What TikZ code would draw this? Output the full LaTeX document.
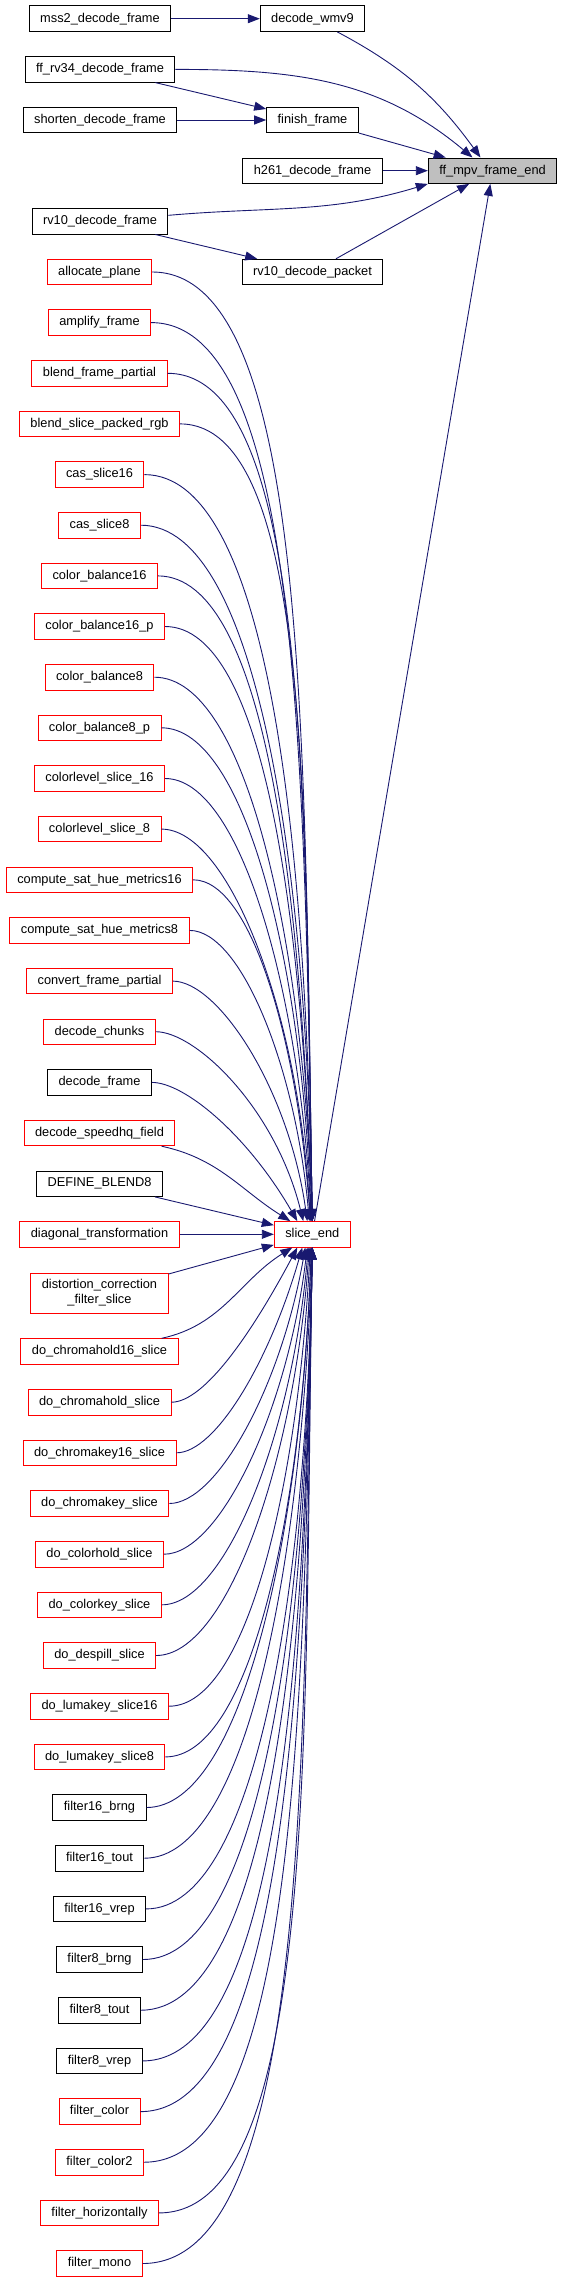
\documentclass[tikz,border=0pt]{standalone}
\usepackage{fontspec}
\setmainfont{Liberation Sans}
\usepackage{tikz}
\usetikzlibrary{arrows.meta}
\definecolor{edgeblue}{HTML}{191970}
\definecolor{boxred}{HTML}{FF0000}
\definecolor{boxgray}{HTML}{BFBFBF}

\begin{document}
\begin{tikzpicture}[
    x=1pt, y=-1pt,
    font=\fontsize{12.8pt}{15pt}\selectfont,
    fn/.style={rectangle, draw=black, fill=white, line width=0.9pt, minimum height=25.5pt, inner xsep=11pt, inner ysep=3pt, align=center},
    fnred/.style={fn, draw=boxred},
    fnmain/.style={fn, fill=boxgray},
    fl/.style={-{Triangle[length=12pt, width=9pt]}, line width=0.9pt, draw=edgeblue},
    callin/.style={fl, out=0, out looseness=0.42, in looseness=1.25}
  ]
  \useasboundingbox (0,0) rectangle (561,2283);

  % callers of ff_mpv_frame_end
  \node[fn]     (mss)     at (100, 18.7)    {mss2\_decode\_frame};
  \node[fn]     (wmv)     at (312.5, 18.7)  {decode\_wmv9};
  \node[fn]     (rv34)    at (100, 69.4)    {ff\_rv34\_decode\_frame};
  \node[fn]     (shorten) at (100, 120)     {shorten\_decode\_frame};
  \node[fn]     (finish)  at (312.5, 120)   {finish\_frame};
  \node[fn]     (h261)    at (312.5, 170.7) {h261\_decode\_frame};
  \node[fnmain] (mpv)     at (492.5, 170.7) {ff\_mpv\_frame\_end};
  \node[fn]     (rv10f)   at (100, 221.3)   {rv10\_decode\_frame};
  \node[fn]     (rv10p)   at (312.5, 272)   {rv10\_decode\_packet};
  \node[fnred]  (slice)   at (312.3, 1234.3) {slice\_end};

  % callers of slice_end
  \node[fnred] (alloc)    at (99.5, 272)    {allocate\_plane};
  \node[fnred] (amplify)  at (99.5, 322.6)  {amplify\_frame};
  \node[fnred] (blendfp)  at (99.5, 373.3)  {blend\_frame\_partial};
  \node[fnred] (blendrgb) at (99.5, 423.9)  {blend\_slice\_packed\_rgb};
  \node[fnred] (cas16)    at (99.5, 474.6)  {cas\_slice16};
  \node[fnred] (cas8)     at (99.5, 525.2)  {cas\_slice8};
  \node[fnred] (cb16)     at (99.5, 575.9)  {color\_balance16};
  \node[fnred] (cb16p)    at (99.5, 626.5)  {color\_balance16\_p};
  \node[fnred] (cb8)      at (99.5, 677.2)  {color\_balance8};
  \node[fnred] (cb8p)     at (99.5, 727.8)  {color\_balance8\_p};
  \node[fnred] (cl16)     at (99.5, 778.5)  {colorlevel\_slice\_16};
  \node[fnred] (cl8)      at (99.5, 829.1)  {colorlevel\_slice\_8};
  \node[fnred] (csh16)    at (99.5, 879.8)  {compute\_sat\_hue\_metrics16};
  \node[fnred] (csh8)     at (99.5, 930.4)  {compute\_sat\_hue\_metrics8};
  \node[fnred] (convert)  at (99.5, 981.1)  {convert\_frame\_partial};
  \node[fnred] (chunks)   at (99.5, 1031.7) {decode\_chunks};
  \node[fn]    (dframe)   at (99.5, 1082.4) {decode\_frame};
  \node[fnred] (speedhq)  at (99.5, 1133)   {decode\_speedhq\_field};
  \node[fn]    (blend8)   at (99.5, 1183.7) {DEFINE\_BLEND8};
  \node[fnred] (diag)     at (99.5, 1234.3) {diagonal\_transformation};
  \node[fnred, minimum height=40pt] (distort) at (99.5, 1293) {distortion\_correction\\\_filter\_slice};
  \node[fnred] (chold16)  at (99.5, 1351.5) {do\_chromahold16\_slice};
  \node[fnred] (chold)    at (99.5, 1402.2) {do\_chromahold\_slice};
  \node[fnred] (ckey16)   at (99.5, 1452.8) {do\_chromakey16\_slice};
  \node[fnred] (ckey)     at (99.5, 1503.5) {do\_chromakey\_slice};
  \node[fnred] (colhold)  at (99.5, 1554.2) {do\_colorhold\_slice};
  \node[fnred] (colkey)   at (99.5, 1604.8) {do\_colorkey\_slice};
  \node[fnred] (despill)  at (99.5, 1655.5) {do\_despill\_slice};
  \node[fnred] (luma16)   at (99.5, 1706.2) {do\_lumakey\_slice16};
  \node[fnred] (luma8)    at (99.5, 1756.9) {do\_lumakey\_slice8};
  \node[fn]    (fbrng16)  at (99.5, 1807.5) {filter16\_brng};
  \node[fn]    (ftout16)  at (99.5, 1858.2) {filter16\_tout};
  \node[fn]    (fvrep16)  at (99.5, 1908.9) {filter16\_vrep};
  \node[fn]    (fbrng8)   at (99.5, 1959.5) {filter8\_brng};
  \node[fn]    (ftout8)   at (99.5, 2010.2) {filter8\_tout};
  \node[fn]    (fvrep8)   at (99.5, 2060.9) {filter8\_vrep};
  \node[fnred] (fcolor)   at (99.5, 2111.6) {filter\_color};
  \node[fnred] (fcolor2)  at (99.5, 2162.2) {filter\_color2};
  \node[fnred] (fhoriz)   at (99.5, 2212.9) {filter\_horizontally};
  \node[fnred] (fmono)    at (99.5, 2263.5) {filter\_mono};

  % top part
  \draw[fl] (mss) -- (wmv);
  \draw[fl] (wmv) to[out=-28, in=126] ([xshift=-12pt]mpv.north);
  \draw[fl] (rv34) to[out=0, in=140] ([xshift=-20pt]mpv.north);
  \draw[fl] (rv34) -- (finish);
  \draw[fl] (shorten) -- (finish);
  \draw[fl] (finish) -- (mpv);
  \draw[fl] (h261) -- (mpv);
  \draw[fl] (rv10f) to[out=5, in=197] (mpv.south west);
  \draw[fl] (rv10f) -- (rv10p);
  \draw[fl] (rv10p) -- (mpv);
  \draw[fl] (slice) -- (mpv);

  % into slice_end from above
  \draw[callin] (alloc) to[in=91] (slice.north);
  \draw[callin] (amplify) to[in=91] (slice.north);
  \draw[callin] (blendfp) to[in=91] (slice.north);
  \draw[callin] (blendrgb) to[in=91] (slice.north);
  \draw[callin] (cas16) to[in=91] (slice.north);
  \draw[callin] (cas8) to[in=91] (slice.north);
  \draw[callin] (cb16) to[in=92] (slice.north);
  \draw[callin] (cb16p) to[in=92] (slice.north);
  \draw[callin] (cb8) to[in=92] (slice.north);
  \draw[callin] (cb8p) to[in=92] ([xshift=-1pt]slice.north);
  \draw[callin] (cl16) to[in=93] ([xshift=-1pt]slice.north);
  \draw[callin] (cl8) to[in=93] ([xshift=-2pt]slice.north);
  \draw[callin] (csh16) to[in=94] ([xshift=-2pt]slice.north);
  \draw[callin] (csh8) to[in=95] ([xshift=-3pt]slice.north);
  \draw[callin] (convert) to[in=98] ([xshift=-5pt]slice.north);
  \draw[callin] (chunks) to[in=104] ([xshift=-9pt]slice.north);
  \draw[callin] (dframe) to[in=120] ([xshift=-15pt]slice.north);
  \draw[fl] (speedhq) to[out=-12, in=148] ([xshift=-22pt]slice.north);
  \draw[fl] (blend8) -- (slice);
  \draw[fl] (diag) -- (slice);
  \draw[fl] (distort) -- (slice);

  % into slice_end from below
  \draw[fl] (chold16) to[out=12, in=-148] ([xshift=-20pt]slice.south);
  \draw[callin] (chold) to[in=-118] ([xshift=-15pt]slice.south);
  \draw[callin] (ckey16) to[in=-106] ([xshift=-10pt]slice.south);
  \draw[callin] (ckey) to[in=-100] ([xshift=-7pt]slice.south);
  \draw[callin] (colhold) to[in=-97] ([xshift=-5pt]slice.south);
  \draw[callin] (colkey) to[in=-95] ([xshift=-4pt]slice.south);
  \draw[callin] (despill) to[in=-94] ([xshift=-3pt]slice.south);
  \draw[callin] (luma16) to[in=-93] ([xshift=-2pt]slice.south);
  \draw[callin] (luma8) to[in=-92] ([xshift=-1pt]slice.south);
  \draw[callin] (fbrng16) to[in=-92] ([xshift=-1pt]slice.south);
  \draw[callin] (ftout16) to[in=-92] (slice.south);
  \draw[callin] (fvrep16) to[in=-91] (slice.south);
  \draw[callin] (fbrng8) to[in=-91] (slice.south);
  \draw[callin] (ftout8) to[in=-91] (slice.south);
  \draw[callin] (fvrep8) to[in=-91] (slice.south);
  \draw[callin] (fcolor) to[in=-91] (slice.south);
  \draw[callin] (fcolor2) to[in=-91] (slice.south);
  \draw[callin] (fhoriz) to[in=-91] (slice.south);
  \draw[callin] (fmono) to[in=-91] (slice.south);
\end{tikzpicture}
\end{document}
